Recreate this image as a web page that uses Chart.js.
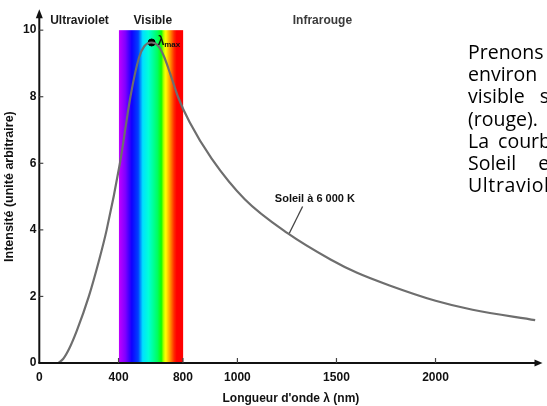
<!DOCTYPE html>
<html><head><meta charset="utf-8">
<script src="https://cdn.jsdelivr.net/npm/chart.js@4"></script>
<style>
html,body{margin:0;padding:0;background:#fff;overflow:hidden}
#wrap{position:relative;width:547px;height:406px;overflow:hidden}
#c{position:absolute;left:0;top:0}
#txt{position:absolute;left:468px;top:41px;font-family:"Open Sans";font-size:19.5px;line-height:22.2px;color:#000;white-space:nowrap}
#txt div{white-space:nowrap}
</style></head><body>
<div id="wrap"><canvas id="c" width="547" height="406"></canvas>
<div id="txt">
<div>Prenons l'exemple du Soleil, dont la surface est à</div>
<div style="word-spacing:12px">environ 6 000 K. Le domaine de la lumière</div>
<div style="word-spacing:10px">visible s'étend de 400 nm (violet) à 800 nm</div>
<div>(rouge).</div>
<div style="word-spacing:4px">La courbe montre que le rayonnement du</div>
<div style="word-spacing:17px">Soleil est aussi émis dans l'infrarouge et</div>
<div style="letter-spacing:0.6px">Ultraviolet.</div>
</div></div>
<script>
// ---- data ----
const wavelengths = [95,120,150,190,250,300,340,407,460,503,529,567,600,630,662,700,759,870,1037,1253,1470,1604,1768,2000,2187,2503];
const intensities = [0,0.12,0.42,0.98,2.0,3.05,4.0,6.0,8.0,9.17,9.51,9.63,9.53,9.2,8.67,8.0,7.23,6.14,4.92,3.9,3.11,2.71,2.33,1.87,1.6,1.29];
const peakPoint = [567, 9.63];
const xTickValues = [0,400,725,1000,1500,2000];
const xTickLabels = ['0','400','800','1000','1500','2000'];
const yTickValues = [0,2,4,6,8,10];
const visibleBand = [402,726];
const visibleBandTop = 10;
const regionNames = ['Ultraviolet','Visible','Infrarouge'];
const curveName = 'Soleil à 6 000 K';
const xTitle = "Longueur d'onde λ (nm)";
const yTitle = 'Intensité (unité arbitraire)';

const regionAnchors = [[203,10.27],[573,10.27],[1429,10.27]];
const bandStops = [[0,'#c000ff'],[0.1,'#8000ff'],[0.2,'#1000ff'],[0.3,'#0040ff'],[0.37,'#00e0ff'],[0.46,'#00ffd8'],[0.6,'#00ff60'],[0.66,'#10ff00'],[0.7,'#c0ff00'],[0.73,'#ffff00'],[0.79,'#ffa000'],[0.86,'#ff2800'],[0.9,'#ff0000'],[1,'#ff0000']];
const boldFont = s => 'bold ' + s + 'px "Liberation Sans", Arial, sans-serif';

const deco = {
  id:'deco',
  beforeDatasetsDraw(chart){
    const {ctx, scales:{x,y}} = chart;
    const x0 = x.getPixelForValue(visibleBand[0]), x1 = x.getPixelForValue(visibleBand[1]);
    const yT = y.getPixelForValue(visibleBandTop), yB = y.getPixelForValue(0);
    const g = ctx.createLinearGradient(x0,0,x1,0);
    bandStops.forEach(([p,c])=>g.addColorStop(p,c));
    ctx.save(); ctx.fillStyle = g; ctx.fillRect(x0,yT,x1-x0,yB-yT); ctx.restore();
  },
  afterDatasetsDraw(chart){
    const {ctx, scales:{x,y}, chartArea:a} = chart;
    const ox = x.getPixelForValue(0), oy = y.getPixelForValue(0);
    ctx.save();
    ctx.strokeStyle = '#111'; ctx.fillStyle = '#111'; ctx.lineWidth = 2;
    // axes
    ctx.beginPath(); ctx.moveTo(ox, oy); ctx.lineTo(ox, a.top+6); ctx.stroke();
    ctx.beginPath(); ctx.moveTo(ox-1, oy); ctx.lineTo(a.right-6, oy); ctx.stroke();
    ctx.beginPath(); ctx.moveTo(ox, a.top-1); ctx.lineTo(ox-3.5, a.top+8); ctx.lineTo(ox+3.5, a.top+8); ctx.closePath(); ctx.fill();
    ctx.beginPath(); ctx.moveTo(a.right, oy); ctx.lineTo(a.right-8, oy-3.5); ctx.lineTo(a.right-8, oy+3.5); ctx.closePath(); ctx.fill();
    // inner tick marks
    ctx.lineWidth = 1.2; ctx.strokeStyle = '#444';
    xTickValues.forEach(v=>{ if(v===0) return; const px = x.getPixelForValue(v); ctx.beginPath(); ctx.moveTo(px, oy); ctx.lineTo(px, oy-5); ctx.stroke(); });
    yTickValues.forEach(v=>{ if(v===0) return; const py = y.getPixelForValue(v); ctx.beginPath(); ctx.moveTo(ox, py); ctx.lineTo(ox+4, py); ctx.stroke(); });
    // region labels
    ctx.textAlign = 'center'; ctx.textBaseline = 'middle';
    regionNames.forEach((n,i)=>{
      ctx.fillStyle = i===2 ? '#3a3a3a' : '#1a1a1a';
      ctx.font = boldFont(12);
      ctx.fillText(n, x.getPixelForValue(regionAnchors[i][0]), y.getPixelForValue(regionAnchors[i][1]));
    });
    // lambda max label
    const px = x.getPixelForValue(peakPoint[0]), py = y.getPixelForValue(peakPoint[1]);
    ctx.textAlign = 'left'; ctx.textBaseline = 'alphabetic'; ctx.fillStyle = '#111';
    ctx.font = boldFont(12); ctx.fillText('λ', px+6, py+3);
    ctx.font = 'bold 8px "Liberation Sans", Arial, sans-serif'; ctx.fillText('max', px+12.5, py+4.5);
    // curve label + leader
    ctx.font = boldFont(11); ctx.textAlign = 'center'; ctx.textBaseline = 'middle'; ctx.fillStyle = '#111';
    ctx.fillText(curveName, x.getPixelForValue(1391), y.getPixelForValue(4.94));
    ctx.strokeStyle = '#444'; ctx.lineWidth = 1.3;
    ctx.beginPath(); ctx.moveTo(x.getPixelForValue(1329), y.getPixelForValue(4.7)); ctx.lineTo(x.getPixelForValue(1262), y.getPixelForValue(3.9)); ctx.stroke();
    ctx.restore();
  }
};

new Chart(document.getElementById('c'), {
  type:'line',
  data:{datasets:[
    {data: wavelengths.map((w,i)=>({x:w,y:intensities[i]})), borderColor:'#6e6e6e', borderWidth:2.2, pointRadius:0, cubicInterpolationMode:'monotone', fill:false},
    {type:'scatter', data:[{x:peakPoint[0], y:peakPoint[1]}], pointRadius:3.5, pointBackgroundColor:'#000', pointBorderColor:'#000', pointHoverRadius:3.5}
  ]},
  options:{
    responsive:false, animation:false, devicePixelRatio:1, events:[],
    layout:{padding:{left:2, top:7.2, right:0, bottom:0}},
    plugins:{legend:{display:false}, tooltip:{enabled:false}},
    scales:{
      x:{type:'linear', min:0, max:2540,
        grid:{display:false, drawTicks:false}, border:{display:false},
        afterBuildTicks: s=>{ s.ticks = xTickValues.map(v=>({value:v})); },
        afterFit: s=>{ s.height = 43; },
        ticks:{autoSkip:false, maxRotation:0, padding:7, color:'#111', font:{family:'Liberation Sans', size:12, weight:'bold'}, callback:(v,i)=>xTickLabels[i]},
        title:{display:true, text:xTitle, color:'#111', padding:0, font:{family:'Liberation Sans', size:12, weight:'bold'}}
      },
      y:{type:'linear', min:0, max:10.6,
        grid:{display:false, drawTicks:false}, border:{display:false},
        afterBuildTicks: s=>{ s.ticks = yTickValues.map(v=>({value:v})); },
        afterFit: s=>{ s.width = 37.3; },
        ticks:{padding:3, color:'#111', font:{family:'Liberation Sans', size:12, weight:'bold'}},
        title:{display:true, text:yTitle, color:'#111', padding:0, font:{family:'Liberation Sans', size:12.5, weight:'bold'}}
      }
    }
  },
  plugins:[deco]
});
</script>
</body></html>
